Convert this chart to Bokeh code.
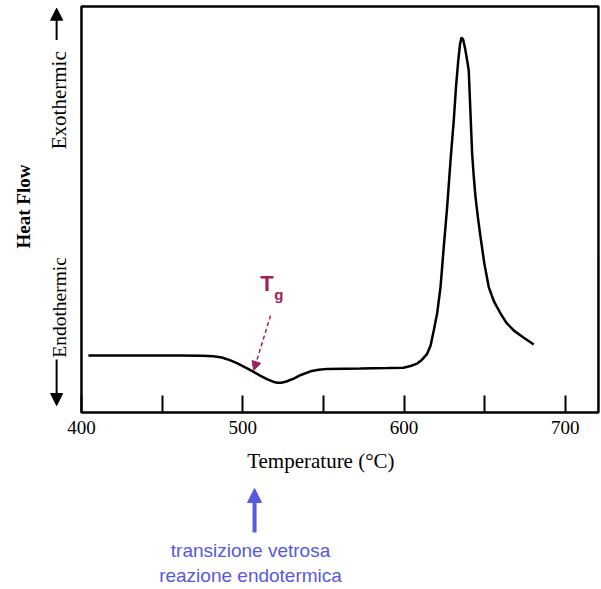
from bokeh.plotting import figure
from bokeh.models import Range1d, FixedTicker, Arrow, NormalHead
from bokeh.core.properties import value
from bokeh.embed import file_html
from bokeh.resources import INLINE
from math import pi

# ---- data (DSC curve, arbitrary heat-flow units) ----
temperature = [404.3, 420, 442.8, 460, 475, 481.8, 487, 492.4, 497, 502.7,
               507, 511.0, 515, 519.2, 521.5, 524, 527, 531.6, 536, 542.0,
               547, 552.3, 573.0, 590, 599.6, 604, 608.1, 611, 614.3, 616.5,
               618.4, 620.5, 622.6, 624.6, 626.7, 628.8, 630.8, 632.2, 633.6,
               634.7, 635.6, 636.6, 637.8, 639.1, 640.1, 641.1, 642.2, 643.2,
               644.3, 645.8, 647.4, 649.8, 652.5, 655.8, 659.8, 663.5, 668.1,
               674.0, 680.4]
heat_flow = [14.0, 14.0, 14.0, 14.0, 13.9, 13.8, 13.5, 12.8, 12.0, 10.8,
             9.9, 9.0, 8.2, 7.5, 7.3, 7.3, 7.6, 8.3, 9.2, 10.1,
             10.5, 10.7, 10.8, 10.9, 11.0, 11.4, 12.0, 12.9, 14.4, 16.5,
             20.1, 24.3, 30.8, 40.6, 50.4, 61.9, 71.7, 80.0, 86.5,
             90.5, 92.1, 91.6, 89.5, 86.5, 84.0, 74.2, 63.6, 58.0,
             52.9, 47.8, 43.1, 36.5, 30.8, 27.2, 24.3, 22.0, 20.1,
             18.4, 16.7]

major_ticks = [400, 500, 600, 700]
minor_ticks = [450, 550, 650]

# chart box (data limits of the plotted area)
x_lo, x_hi = 400, 720.5
y_lo, y_hi = 0, 99.75
# whole-canvas view range
view_x = (349.8, 722.4)
view_y = (-43.5, 101.2)

x_title = "Temperature  (°C)"
y_title = "Heat Flow"
exo_text = "Exothermic"
endo_text = "Endothermic"
tg_main, tg_sub = "T", "g"
note_lines = ["transizione vetrosa", "reazione endotermica"]

# annotation anchor positions (data coordinates)
exo_pos = (386.2, 76.7)
endo_pos = (386.2, 25.8)
heat_label_pos = (364.2, 50.6)
exo_arrow = (384.6, 91.5, 384.6, 99.3)
endo_arrow = (384.6, 13.0, 384.6, 1.7)
tg_main_pos = (515.0, 31.7)
tg_sub_pos = (522.3, 29.0)
tg_arrow = (517.2, 23.8, 506.8, 10.3)
note_arrow = (507.3, -29.5, 507.3, -18.7)
note_x = [504.8, 504.8]
note_y = [-33.9, -40.1]

SERIF = "Liberation Serif"
SANS = "Liberation Sans"
TG_COLOR = "#a21f5c"
BLUE = "#5858df"

p = figure(width=601, height=589, output_backend="svg", toolbar_location=None,
           x_range=Range1d(*view_x), y_range=Range1d(*view_y),
           y_axis_location=None, min_border=0, min_border_left=0, min_border_right=0,
           min_border_top=0, min_border_bottom=0)
p.background_fill_color = "white"
p.border_fill_color = "white"
p.outline_line_color = None
p.xgrid.visible = False
p.ygrid.visible = False

ax = p.xaxis[0]
ax.fixed_location = 0
ax.bounds = (400, 700)
ax.ticker = FixedTicker(ticks=major_ticks, minor_ticks=minor_ticks)
ax.major_tick_in = 17
ax.major_tick_out = 0
ax.minor_tick_in = 17
ax.minor_tick_out = 0
ax.major_tick_line_width = 2
ax.minor_tick_line_width = 2
ax.major_tick_line_color = "black"
ax.minor_tick_line_color = "black"
ax.axis_line_color = None
ax.major_label_text_font = SERIF
ax.major_label_text_font_size = "19px"
ax.major_label_text_color = "black"
ax.major_label_standoff = 9
ax.axis_label = x_title
ax.axis_label_text_font = SERIF
ax.axis_label_text_font_size = "21px"
ax.axis_label_text_font_style = "normal"
ax.axis_label_text_color = "black"
ax.axis_label_standoff = 11

# chart box
p.quad(left=[x_lo], right=[x_hi], bottom=[y_lo], top=[y_hi], fill_color=None,
       line_color="black", line_width=2.5)

p.line(temperature, heat_flow, line_color="black", line_width=2.5)

# y-side labels
p.text(x=[heat_label_pos[0]], y=[heat_label_pos[1]], text=[y_title], angle=pi / 2,
       text_font=value(SERIF), text_font_size=value("19px"), text_font_style="bold",
       text_align="center", text_baseline="alphabetic", text_color="black")
p.text(x=[exo_pos[0]], y=[exo_pos[1]], text=[exo_text], angle=pi / 2,
       text_font=value(SERIF), text_font_size=value("21px"),
       text_align="center", text_baseline="alphabetic", text_color="black")
p.text(x=[endo_pos[0]], y=[endo_pos[1]], text=[endo_text], angle=pi / 2,
       text_font=value(SERIF), text_font_size=value("19.5px"),
       text_align="center", text_baseline="alphabetic", text_color="black")
for (x0, y0, x1, y1) in (exo_arrow, endo_arrow):
    p.add_layout(Arrow(x_start=x0, y_start=y0, x_end=x1, y_end=y1, line_width=2,
                       line_color="black",
                       end=NormalHead(size=12, fill_color="black", line_color="black",
                                      line_width=1)))

# Tg annotation
p.text(x=[tg_main_pos[0]], y=[tg_main_pos[1]], text=[tg_main], text_font=value(SANS),
       text_font_size=value("22px"), text_font_style="bold", text_color=TG_COLOR,
       text_align="center", text_baseline="alphabetic")
p.text(x=[tg_sub_pos[0]], y=[tg_sub_pos[1]], text=[tg_sub], text_font=value(SANS),
       text_font_size=value("15px"), text_font_style="bold", text_color=TG_COLOR,
       text_align="center", text_baseline="alphabetic")
p.add_layout(Arrow(x_start=tg_arrow[0], y_start=tg_arrow[1], x_end=tg_arrow[2], y_end=tg_arrow[3],
                   line_width=1.5, line_color=TG_COLOR, line_dash="4 3",
                   end=NormalHead(size=9, fill_color=TG_COLOR, line_color=TG_COLOR,
                                  line_width=1, line_dash="solid")))

# bottom note
p.add_layout(Arrow(x_start=note_arrow[0], y_start=note_arrow[1], x_end=note_arrow[2], y_end=note_arrow[3],
                   line_width=4, line_color=BLUE,
                   end=NormalHead(size=14, fill_color=BLUE, line_color=BLUE, line_width=1)))
p.text(x=note_x, y=note_y, text=note_lines, text_font=value(SANS), text_font_size=value("19px"),
       text_color=BLUE, text_align="center", text_baseline="middle")

open("out.html", "w").write(file_html(p, INLINE))
